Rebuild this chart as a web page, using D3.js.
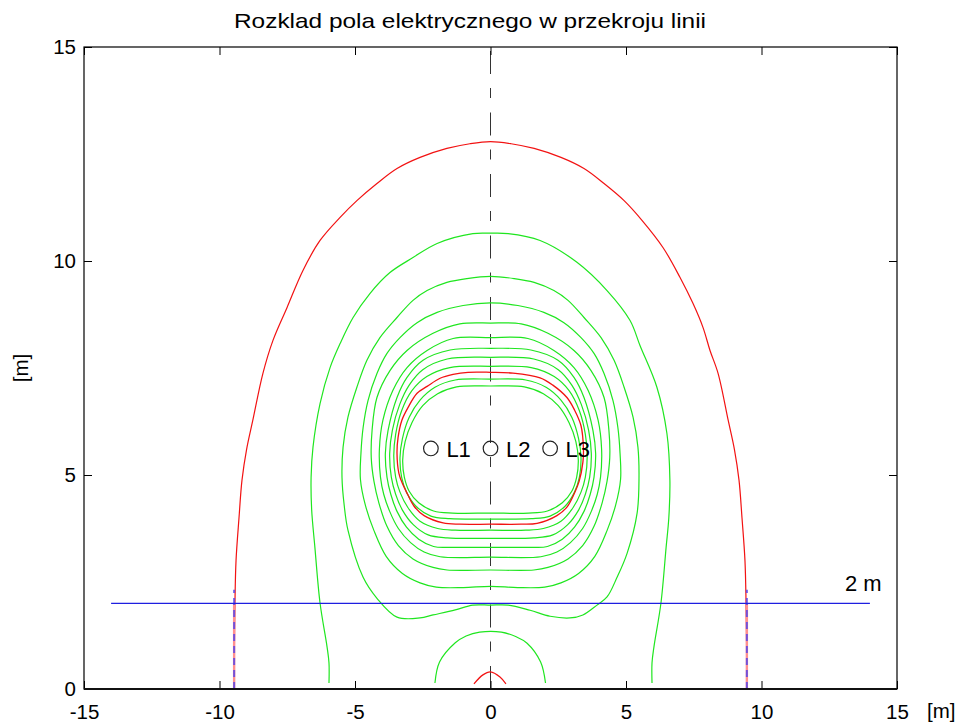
<!DOCTYPE html>
<html>
<head>
<meta charset="utf-8">
<script src="https://cdn.jsdelivr.net/npm/d3@7"></script>
<style>
  html, body { margin: 0; padding: 0; background: #fff; }
  svg { display: block; font-family: "Liberation Sans", Arial, Helvetica, sans-serif; }
</style>
</head>
<body>
<svg id="chart" width="972" height="727"></svg>
<script>
// Axis ticks
const xTicks = [-15, -10, -5, 0, 5, 10, 15];
const yTicks = [0, 5, 10, 15];

// Phase conductors [x, y] in metres
const conductorNames = ["L1", "L2", "L3"];
const conductorX = [-2.2, 0, 2.2];
const conductorY = [5.62, 5.62, 5.62];

// Reference line at 2 m above ground
const refHeight = 2.0;
const refSpan = [-14, 14];
const refLabel = "2 m";

// Distance where the outer limit line meets the 2 m level
const limitX = [-9.46, 9.46];
const limitTop = 2.32;

// Outer limit contour (red, open at ground)
const outerLimit = [
  [-9.47,0],[-9.45,1.0],[-9.43,2.0],[-9.39,3.0],[-9.28,4.0],[-9.17,4.88],[-9.0,5.6],[-8.77,6.28],
  [-8.40,7.37],[-8.03,8.14],[-7.51,8.91],[-6.92,9.78],[-6.29,10.48],[-5.55,11.02],[-4.93,11.41],
  [-4.19,11.81],[-3.45,12.16],[-2.60,12.42],[-1.61,12.63],[-0.76,12.74],[0,12.79],[0.76,12.74],
  [1.61,12.63],[2.60,12.42],[3.45,12.16],[4.19,11.81],[4.93,11.41],[5.59,10.95],[6.37,10.31],
  [6.99,9.62],[7.47,9.01],[7.84,8.45],[8.10,7.91],[8.40,7.37],[8.77,6.28],[9.0,5.6],[9.17,4.88],
  [9.28,4.0],[9.39,3.0],[9.43,2.0],[9.45,1.0],[9.47,0]
];

// Inner limit contour (red, closed round the conductors)
const innerLimit = [
  [0,7.40],[-0.83,7.40],[-1.38,7.35],[-1.86,7.26],[-2.34,7.07],[-2.71,6.91],[-3.04,6.58],[-3.27,6.28],
  [-3.41,5.88],[-3.45,5.51],[-3.38,5.04],[-3.25,4.80],[-3.06,4.55],[-2.82,4.27],[-2.45,4.05],
  [-1.75,3.88],[-1.13,3.85],[0,3.85],[1.13,3.85],[1.72,3.87],[2.45,4.05],[2.82,4.25],[3.08,4.55],
  [3.27,4.85],[3.41,5.3],[3.43,5.6],[3.34,6.15],[3.10,6.52],[2.82,6.81],[2.3,7.10],[1.83,7.27],[0.83,7.38]
];

// Small red contour just above ground under the line
const groundLimit = [[-0.61,0.12],[-0.28,0.33],[0,0.40],[0.35,0.28],[0.57,0.12]];

// Intermediate field levels (green)
const levelOpen = [
  [-5.96,0.14],[-5.96,0.61],[-6.03,0.98],[-6.29,2.01],[-6.48,3.31],[-6.60,4.2],[-6.62,4.95],
  [-6.55,5.65],[-6.29,6.67],[-5.92,7.51],[-5.55,8.07],[-5.07,8.68],[-4.45,9.24],[-3.71,9.73],
  [-2.86,10.08],[-1.97,10.41],[-0.65,10.64],[0,10.65],[0.65,10.64],[1.83,10.48],[3.19,9.97],
  [4.30,9.31],[5.15,8.61],[5.52,8.02],[6.14,7.05],[6.51,5.97],[6.62,4.88],[6.58,4.0],[6.48,3.31],
  [6.29,2.01],[6.03,0.98],[5.96,0.61],[5.96,0.14]
];

const level2 = [
  [0,9.64],[-0.87,9.59],[-1.61,9.50],[-2.34,9.31],[-2.86,9.08],[-3.45,8.68],[-4.08,8.21],[-4.56,7.68],
  [-4.93,7.05],[-5.26,6.35],[-5.44,5.65],[-5.48,4.95],[-5.40,4.3],[-5.26,3.71],[-4.70,2.61],
  [-4.19,2.12],[-3.45,1.68],[-2.60,1.66],[-2.12,1.73],[-1.3,1.85],[-0.65,1.96],[0,1.96],
  [0.65,1.96],[1.46,1.84],[2.2,1.70],[2.93,1.66],[3.41,1.73],[3.93,1.96],[4.30,2.15],[4.67,2.61],
  [5.04,3.17],[5.41,4.11],[5.48,4.95],[5.44,5.65],[5.26,6.35],[4.93,7.05],[4.56,7.68],[4.08,8.21],
  [3.45,8.68],[2.86,9.08],[2.34,9.31],[1.61,9.50],[0.87,9.59]
];

const level3 = [
  [0,9.02],[-1.01,8.96],[-1.97,8.80],[-2.71,8.56],[-3.34,8.21],[-3.82,7.84],[-4.19,7.37],[-4.52,6.74],
  [-4.70,6.11],[-4.78,5.51],[-4.80,4.9],[-4.62,4.3],[-4.30,3.7],[-3.85,3.1],[-3.25,2.70],[-2.60,2.48],
  [-2.0,2.38],[-1.0,2.37],[0,2.40],[1.0,2.37],[2.0,2.38],[2.60,2.48],[3.25,2.70],[3.85,3.1],[4.30,3.7],
  [4.62,4.3],[4.80,4.9],[4.78,5.51],[4.70,6.11],[4.52,6.74],[4.19,7.37],[3.82,7.84],[3.34,8.21],
  [2.71,8.56],[1.97,8.80],[1.01,8.96]
];

const level4 = [
  [0,8.55],[-1.13,8.53],[-2.12,8.31],[-3.08,7.91],[-3.71,7.44],[-4.19,6.81],[-4.37,6.04],[-4.40,5.4],
  [-4.30,4.85],[-4.12,4.35],[-3.82,3.80],[-3.40,3.35],[-2.86,3.04],[-2.12,2.84],[-1.6,2.78],[0,2.78],
  [1.6,2.78],[2.12,2.84],[2.86,3.04],[3.40,3.35],[3.82,3.80],[4.12,4.35],[4.30,4.85],[4.40,5.4],
  [4.37,6.04],[4.19,6.81],[3.71,7.44],[3.08,7.91],[2.12,8.31],[1.13,8.53]
];

const level5 = [
  [0,8.21],[-1.38,8.19],[-2.34,7.91],[-3.08,7.51],[-3.60,6.98],[-3.97,6.28],[-4.10,5.6],[-4.06,4.95],
  [-3.94,4.55],[-3.72,4.15],[-3.40,3.75],[-2.95,3.42],[-2.45,3.20],[-1.86,3.09],[0,3.08],[1.86,3.09],
  [2.45,3.20],[2.95,3.42],[3.40,3.75],[3.72,4.15],[3.94,4.55],[4.06,4.95],[4.10,5.6],[3.97,6.28],
  [3.60,6.98],[3.08,7.51],[2.34,7.91],[1.38,8.19]
];

const level6 = [
  [0,7.96],[-1.49,7.92],[-2.49,7.68],[-3.08,7.28],[-3.45,6.81],[-3.78,6.04],[-3.88,5.5],[-3.82,4.95],
  [-3.68,4.55],[-3.45,4.15],[-3.10,3.78],[-2.65,3.50],[-2.10,3.33],[-1.5,3.31],[0,3.31],[1.5,3.31],
  [2.10,3.33],[2.65,3.50],[3.10,3.78],[3.45,4.15],[3.68,4.55],[3.82,4.95],[3.88,5.5],[3.78,6.04],
  [3.45,6.81],[3.08,7.28],[2.49,7.68],[1.49,7.92]
];

const level7 = [
  [0,7.75],[-1.6,7.71],[-2.5,7.46],[-3.0,7.10],[-3.35,6.65],[-3.62,6.05],[-3.72,5.5],[-3.66,4.95],
  [-3.50,4.55],[-3.25,4.18],[-2.85,3.84],[-2.30,3.60],[-1.6,3.53],[0,3.52],[1.6,3.53],[2.30,3.60],
  [2.85,3.84],[3.25,4.18],[3.50,4.55],[3.66,4.95],[3.72,5.5],[3.62,6.05],[3.35,6.65],[3.0,7.10],
  [2.5,7.46],[1.6,7.71]
];

const level8 = [
  [0,7.54],[-1.5,7.51],[-2.35,7.30],[-2.9,6.97],[-3.28,6.5],[-3.50,5.95],[-3.57,5.45],[-3.50,4.95],
  [-3.34,4.60],[-3.05,4.24],[-2.60,3.92],[-1.95,3.75],[-1.3,3.71],[0,3.71],[1.3,3.71],[1.95,3.75],
  [2.60,3.92],[3.05,4.24],[3.34,4.60],[3.50,4.95],[3.57,5.45],[3.50,5.95],[3.28,6.5],[2.9,6.97],
  [2.35,7.30],[1.5,7.51]
];

const level9 = [
  [0,7.24],[-1.3,7.22],[-2.05,7.05],[-2.6,6.75],[-3.0,6.35],[-3.25,5.85],[-3.34,5.4],[-3.28,4.95],
  [-3.10,4.60],[-2.75,4.27],[-2.2,4.04],[-1.5,3.98],[0,3.97],[1.5,3.98],[2.2,4.04],[2.75,4.27],
  [3.10,4.60],[3.28,4.95],[3.34,5.4],[3.25,5.85],[3.0,6.35],[2.6,6.75],[2.05,7.05],[1.3,7.22]
];

const level10 = [
  [0,7.08],[-1.25,7.06],[-1.95,6.90],[-2.5,6.62],[-2.9,6.22],[-3.15,5.78],[-3.24,5.35],[-3.18,4.95],
  [-3.0,4.62],[-2.65,4.35],[-2.1,4.16],[-1.4,4.11],[0,4.11],[1.4,4.11],[2.1,4.16],[2.65,4.35],
  [3.0,4.62],[3.18,4.95],[3.24,5.35],[3.15,5.78],[2.9,6.22],[2.5,6.62],[1.95,6.90],[1.25,7.06]
];

// Green contour just above ground under the line
const levelGround = [
  [-2.05,0.14],[-1.88,0.63],[-1.30,1.08],[-0.90,1.24],[-0.40,1.33],[0.40,1.33],[0.95,1.22],
  [1.35,1.07],[1.85,0.63],[2.03,0.14]
];

const closedLevels = [level2, level3, level4, level5, level6, level7, level8, level9, level10];

// ---- drawing ----
const svg = d3.select("#chart");
const plot = { left: 84, right: 897, top: 47, bottom: 689 };

const x = d3.scaleLinear().domain([-15, 15]).range([plot.left, plot.right]);
const y = d3.scaleLinear().domain([0, 15]).range([plot.bottom, plot.top]);

const GREEN = "#1fe61f";
const RED = "#f21212";
const BLUE = "#1f1fe0";
const LABEL_SIZE = 20.5;

const openLine = d3.line().x(d => x(d[0])).y(d => y(d[1])).curve(d3.curveCatmullRom.alpha(0.5));
const closedLine = d3.line().x(d => x(d[0])).y(d => y(d[1])).curve(d3.curveCatmullRomClosed.alpha(0.5));

const g = svg.append("g");

// clip to the axes box
svg.append("clipPath").attr("id", "plotClip")
  .append("rect")
  .attr("x", plot.left).attr("y", plot.top)
  .attr("width", plot.right - plot.left).attr("height", plot.bottom - plot.top);

const marks = g.append("g").attr("clip-path", "url(#plotClip)");

// symmetry axis of the line (dash-dot)
marks.append("line")
  .attr("x1", x(0)).attr("x2", x(0))
  .attr("y1", y(0)).attr("y2", y(15))
  .attr("stroke", "#333").attr("stroke-width", 1)
  .attr("stroke-dasharray", "23,14.5,10,14");

// green levels
marks.append("path").datum(levelOpen)
  .attr("d", openLine).attr("fill", "none").attr("stroke", GREEN).attr("stroke-width", 1.2);
marks.selectAll(".lvl").data(closedLevels).join("path")
  .attr("class", "lvl")
  .attr("d", closedLine).attr("fill", "none").attr("stroke", GREEN).attr("stroke-width", 1.2);
marks.append("path").datum(levelGround)
  .attr("d", openLine).attr("fill", "none").attr("stroke", GREEN).attr("stroke-width", 1.2);

// red limit contours
marks.append("path").datum(outerLimit)
  .attr("d", openLine).attr("fill", "none").attr("stroke", RED).attr("stroke-width", 1.2);
marks.append("path").datum(innerLimit)
  .attr("d", closedLine).attr("fill", "none").attr("stroke", RED).attr("stroke-width", 1.3);
marks.append("path").datum(groundLimit)
  .attr("d", openLine).attr("fill", "none").attr("stroke", RED).attr("stroke-width", 1.2);

// limit distance markers
limitX.forEach(lx => {
  marks.append("line")
    .attr("x1", x(lx)).attr("x2", x(lx)).attr("y1", y(0)).attr("y2", y(refHeight))
    .attr("stroke", "#ff8f8f").attr("stroke-width", 2.4);
  marks.append("line")
    .attr("x1", x(lx)).attr("x2", x(lx)).attr("y1", y(0)).attr("y2", y(limitTop))
    .attr("stroke", "#5a46e6").attr("stroke-opacity", 0.85).attr("stroke-width", 2)
    .attr("stroke-dasharray", "7,5");
});

// 2 m reference line
marks.append("line")
  .attr("x1", x(refSpan[0])).attr("x2", x(refSpan[1]))
  .attr("y1", y(refHeight)).attr("y2", y(refHeight))
  .attr("stroke", BLUE).attr("stroke-width", 1.3);

g.append("text")
  .attr("x", x(13.08)).attr("y", y(2.29))
  .attr("font-size", 22).attr("fill", "#000")
  .text(refLabel);

// conductors
const cond = g.selectAll(".cond").data(conductorNames).join("g").attr("class", "cond");
cond.append("circle")
  .attr("cx", (d, i) => x(conductorX[i])).attr("cy", (d, i) => y(conductorY[i]))
  .attr("r", 7.3).attr("fill", "none").attr("stroke", "#222").attr("stroke-width", 1.2);
cond.append("text")
  .attr("x", (d, i) => x(conductorX[i]) + 15.5).attr("y", (d, i) => y(conductorY[i]) + 8.5)
  .attr("font-size", 22).attr("fill", "#000")
  .text(d => d);

// axes box with inward ticks on all sides
const tickLen = 8;
const axB = g.append("g").attr("transform", `translate(0,${plot.bottom})`)
  .call(d3.axisBottom(x).tickValues(xTicks).tickSize(-tickLen).tickPadding(15).tickFormat(d3.format("d")));
const axT = g.append("g").attr("transform", `translate(0,${plot.top})`)
  .call(d3.axisTop(x).tickValues(xTicks).tickSize(-tickLen).tickFormat(""));
const axL = g.append("g").attr("transform", `translate(${plot.left},0)`)
  .call(d3.axisLeft(y).tickValues(yTicks).tickSize(-tickLen).tickPadding(8).tickFormat(d3.format("d")));
const axR = g.append("g").attr("transform", `translate(${plot.right},0)`)
  .call(d3.axisRight(y).tickValues(yTicks).tickSize(-tickLen).tickFormat(""));

[axB, axT, axL, axR].forEach(a => {
  a.select(".domain").remove();
  a.selectAll("line").attr("stroke", "#000").attr("stroke-width", 1);
  a.selectAll("text").attr("font-size", LABEL_SIZE).attr("fill", "#000")
    .attr("font-family", "'Liberation Sans', Arial, sans-serif");
});
axB.selectAll("text").text(d => d < 0 ? "-" + Math.abs(d) : d);

g.append("rect")
  .attr("x", plot.left).attr("y", plot.top)
  .attr("width", plot.right - plot.left).attr("height", plot.bottom - plot.top)
  .attr("fill", "none").attr("stroke", "#000").attr("stroke-width", 1.2);
g.append("line")
  .attr("x1", plot.left).attr("x2", plot.right).attr("y1", plot.bottom).attr("y2", plot.bottom)
  .attr("stroke", "#111").attr("stroke-width", 2);

// axis labels and title
g.append("text")
  .attr("x", 927).attr("y", 718)
  .attr("font-size", LABEL_SIZE).text("[m]");
g.append("text")
  .attr("transform", `translate(28,368) rotate(-90)`)
  .attr("text-anchor", "middle")
  .attr("font-size", LABEL_SIZE).text("[m]");
g.append("text")
  .attr("x", 470).attr("y", 28)
  .attr("text-anchor", "middle")
  .attr("font-size", 21)
  .attr("textLength", 472).attr("lengthAdjust", "spacingAndGlyphs")
  .text("Rozklad pola elektrycznego w przekroju linii");
</script>
</body>
</html>
